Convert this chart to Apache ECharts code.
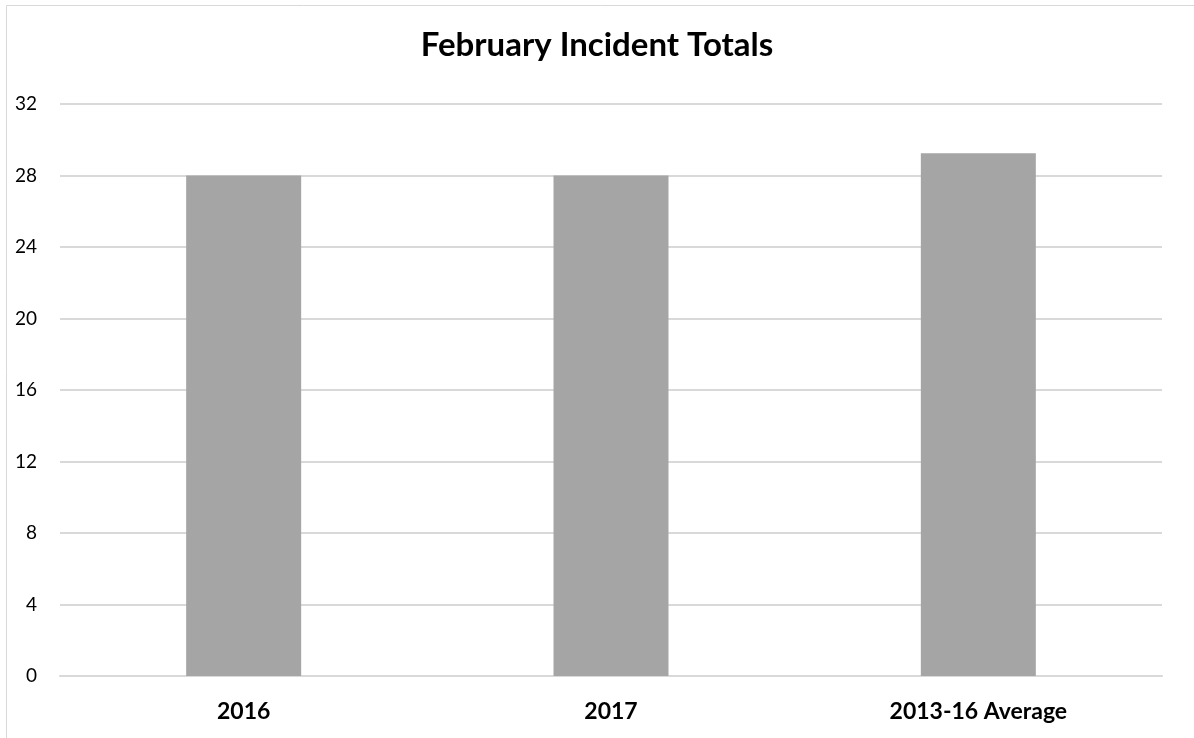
<!DOCTYPE html>
<html>
<head>
<meta charset="utf-8">
<script src="https://cdn.jsdelivr.net/npm/echarts@6/dist/echarts.min.js"></script>
<style>
html,body{margin:0;padding:0;background:#fff;}
#c{width:1194px;height:738px;}
</style>
</head>
<body>
<div id="c"></div>
<script>
const categories = ['2016', '2017', '2013-16 Average'];
const incidents = [28, 28, 29.25];
const yTicks = { min: 0, max: 32, interval: 4 };

const chart = echarts.init(document.getElementById('c'));
chart.setOption({
  backgroundColor: '#fff',
  animation: false,
  graphic: [{
    type: 'rect', silent: true,
    shape: { x: 6.5, y: 5.5, width: 1300, height: 900 },
    style: { fill: 'none', stroke: '#d9d9d9', lineWidth: 1 }
  }],
  title: {
    text: 'February Incident Totals',
    left: 'center', top: 24,
    textStyle: { fontFamily: 'Lato', fontWeight: 'bold', fontSize: 33, color: '#000' }
  },
  grid: { left: 60, right: 32, top: 104, bottom: 62 },
  xAxis: {
    type: 'category', data: categories,
    axisLine: { lineStyle: { color: '#d9d9d9', width: 2 } },
    axisTick: { show: false },
    axisLabel: { fontFamily: 'Lato', fontWeight: 'bold', fontSize: 23, color: '#000', margin: 24 }
  },
  yAxis: {
    type: 'value', min: yTicks.min, max: yTicks.max, interval: yTicks.interval,
    axisLine: { show: false }, axisTick: { show: false },
    splitLine: { lineStyle: { color: '#d9d9d9', width: 2 } },
    axisLabel: { fontFamily: 'Lato', fontSize: 19, color: '#000', margin: 23 }
  },
  series: [{
    type: 'bar', data: incidents, barWidth: 115,
    itemStyle: { color: '#a5a5a5' }
  }]
});
</script>
</body>
</html>
